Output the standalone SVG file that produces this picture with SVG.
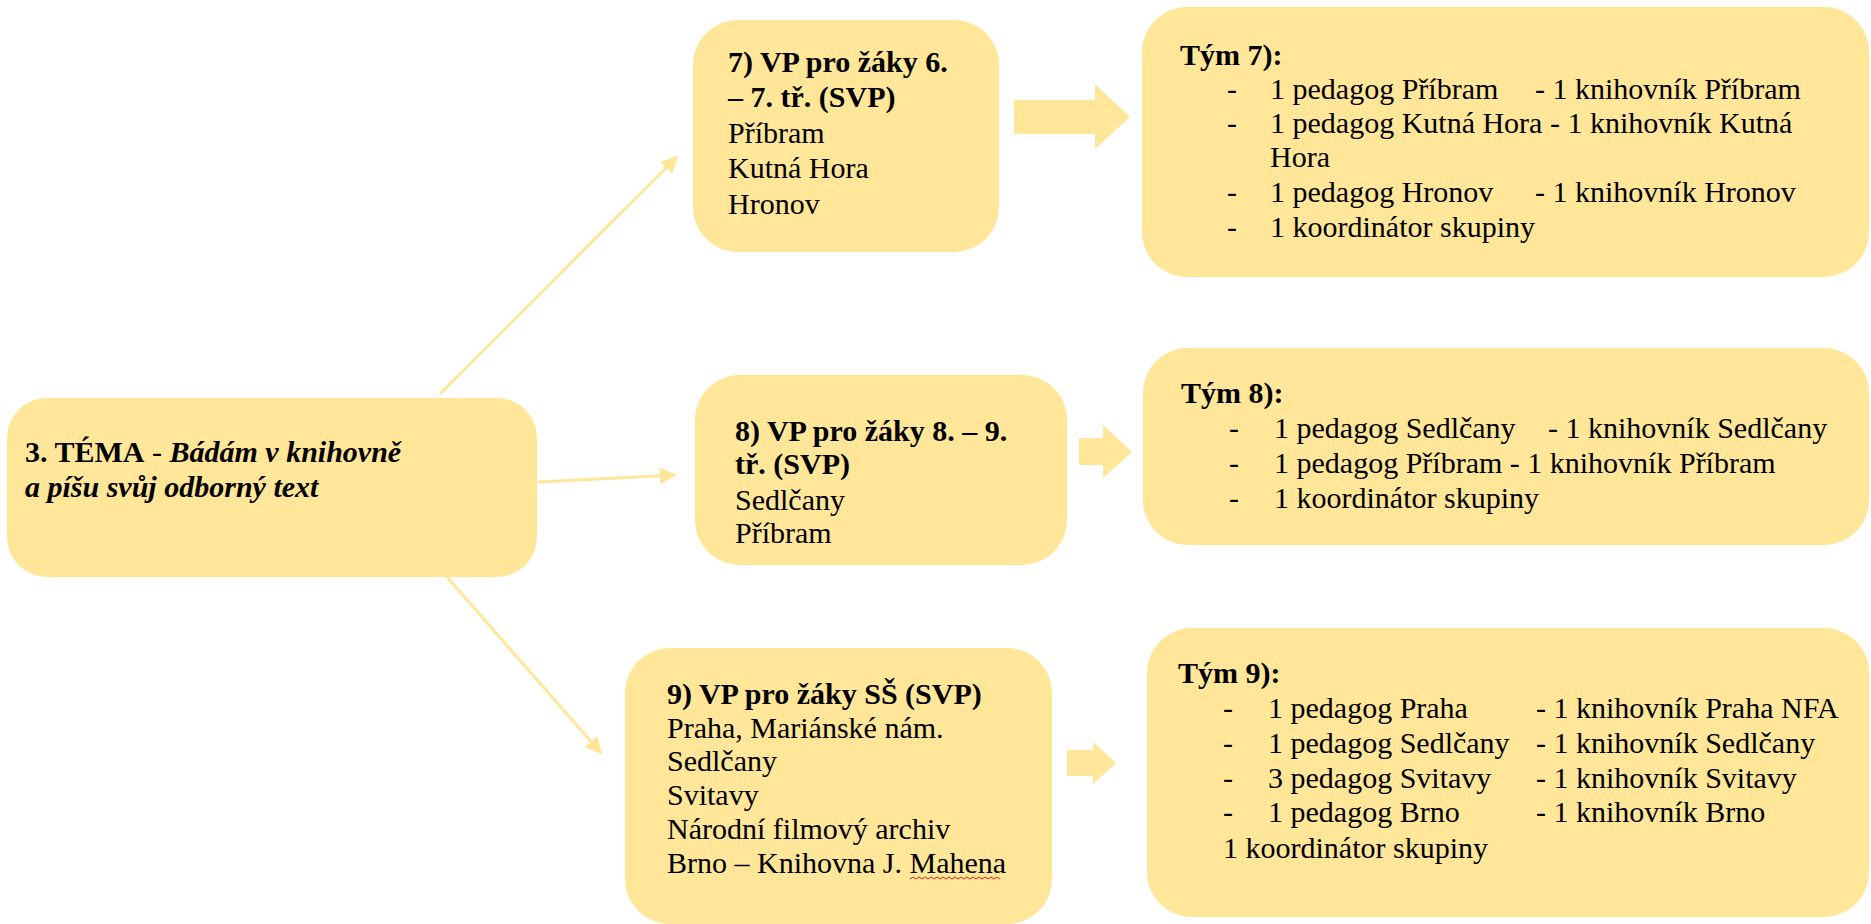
<svg xmlns="http://www.w3.org/2000/svg" width="1871" height="924" viewBox="0 0 1871 924">
<defs>
<style>
.box{fill:#FFE699;}
text{font-family:'Liberation Serif','Times New Roman',Times,serif;font-size:30px;fill:#000;}
.b{font-weight:bold;}
.bi{font-weight:bold;font-style:italic;}
.conn{stroke:#FFE699;stroke-width:3;fill:none;}
.blk{fill:#FFE699;}
</style>
<marker id="ah" viewBox="0 0 10 10" refX="9" refY="5" markerWidth="17" markerHeight="17" markerUnits="userSpaceOnUse" orient="auto">
<path d="M0,0 L10,5 L0,10 z" fill="#FFE699"/>
</marker>
</defs>
<rect width="1871" height="924" fill="#fff"/>

<g id="connectors">
<line class="conn" x1="440" y1="394" x2="677" y2="157" marker-end="url(#ah)"/>
<line class="conn" x1="538" y1="482" x2="675" y2="475" marker-end="url(#ah)"/>
<line class="conn" x1="447" y1="577" x2="601" y2="753" marker-end="url(#ah)"/>
<path class="blk" d="M1014,100 H1095 V84 L1130,117 L1095,149 V134 H1014 Z"/>
<path class="blk" d="M1079,438 H1103 V425 L1132,452 L1103,478 V465 H1079 Z"/>
<path class="blk" d="M1067,750 H1093 V742 L1116,763 L1093,784 V776 H1067 Z"/>
</g>

<g id="tema" font-family="Liberation Serif, serif">
<rect class="box" x="7" y="398" width="530" height="179" rx="40"/>
<text x="25" y="462"><tspan class="b">3. TÉMA</tspan> - <tspan class="bi">Bádám v knihovně</tspan></text>
<text class="bi" x="25" y="497">a píšu svůj odborný text</text>
</g>

<g id="vp7" font-family="Liberation Serif, serif">
<rect class="box" x="693" y="20" width="306" height="232" rx="45"/>
<text class="b" x="728" y="72">7) VP pro žáky  6.</text>
<text class="b" x="728" y="107">– 7. tř. (SVP)</text>
<text x="728" y="143">Příbram</text>
<text x="728" y="178">Kutná Hora</text>
<text x="728" y="214">Hronov</text>
</g>

<g id="vp8" font-family="Liberation Serif, serif">
<rect class="box" x="695" y="375" width="372" height="190" rx="45"/>
<text class="b" x="735" y="441">8) VP pro žáky 8. – 9.</text>
<text class="b" x="735" y="474">tř. (SVP)</text>
<text x="735" y="510">Sedlčany</text>
<text x="735" y="543">Příbram</text>
</g>

<g id="vp9" font-family="Liberation Serif, serif">
<rect class="box" x="625" y="648" width="427" height="276" rx="45"/>
<text class="b" x="667" y="704">9) VP pro žáky SŠ (SVP)</text>
<text x="667" y="738">Praha, Mariánské nám.</text>
<text x="667" y="771">Sedlčany</text>
<text x="667" y="805">Svitavy</text>
<text x="667" y="839">Národní filmový archiv</text>
<text x="667" y="873">Brno – Knihovna J. Mahena</text>
<path d="M910,879 l3,-2 l3,2 l3,-2 l3,2 l3,-2 l3,2 l3,-2 l3,2 l3,-2 l3,2 l3,-2 l3,2 l3,-2 l3,2 l3,-2 l3,2 l3,-2 l3,2 l3,-2 l3,2 l3,-2 l3,2 l3,-2 l3,2 l3,-2 l3,2 l3,-2 l3,2 l3,-2 l3,2" stroke="#e02020" stroke-width="1" fill="none"/>
</g>

<g id="tym7" font-family="Liberation Serif, serif">
<rect class="box" x="1142" y="7" width="727" height="270" rx="45"/>
<text class="b" x="1180" y="65">Tým 7):</text>
<text x="1227" y="99">-</text><text x="1270" y="99">1 pedagog Příbram</text><text x="1535" y="99">- 1 knihovník Příbram</text>
<text x="1227" y="133">-</text><text x="1270" y="133">1 pedagog Kutná Hora - 1 knihovník Kutná</text>
<text x="1270" y="167">Hora</text>
<text x="1227" y="202">-</text><text x="1270" y="202">1 pedagog Hronov</text><text x="1535" y="202">- 1 knihovník Hronov</text>
<text x="1227" y="237">-</text><text x="1270" y="237">1 koordinátor skupiny</text>
</g>

<g id="tym8" font-family="Liberation Serif, serif">
<rect class="box" x="1143" y="348" width="726" height="197" rx="45"/>
<text class="b" x="1181" y="403">Tým 8):</text>
<text x="1229" y="438">-</text><text x="1274" y="438">1 pedagog Sedlčany</text><text x="1548" y="438">- 1 knihovník Sedlčany</text>
<text x="1229" y="473">-</text><text x="1274" y="473">1 pedagog Příbram - 1 knihovník Příbram</text>
<text x="1229" y="508">-</text><text x="1274" y="508">1 koordinátor skupiny</text>
</g>

<g id="tym9" font-family="Liberation Serif, serif">
<rect class="box" x="1147" y="628" width="722" height="289" rx="45"/>
<text class="b" x="1178" y="683">Tým 9):</text>
<text x="1223" y="718">-</text><text x="1268" y="718">1 pedagog Praha</text><text x="1536" y="718">- 1 knihovník Praha NFA</text>
<text x="1223" y="753">-</text><text x="1268" y="753">1 pedagog Sedlčany</text><text x="1536" y="753">- 1 knihovník Sedlčany</text>
<text x="1223" y="788">-</text><text x="1268" y="788">3 pedagog Svitavy</text><text x="1536" y="788">- 1 knihovník Svitavy</text>
<text x="1223" y="822">-</text><text x="1268" y="822">1 pedagog Brno</text><text x="1536" y="822">- 1 knihovník Brno</text>
<text x="1223" y="858">1 koordinátor skupiny</text>
</g>
</svg>
